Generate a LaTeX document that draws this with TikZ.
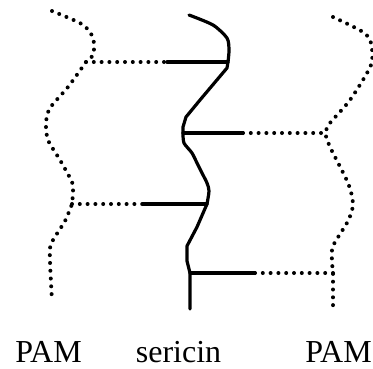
\documentclass[tikz,border=0pt]{standalone}
\usepackage{fontspec}
\setmainfont{Liberation Serif}
\begin{document}
\begin{tikzpicture}[x=1pt,y=-1pt,
  pam/.style={line width=4pt,line cap=round,dash pattern=on 0pt off 7.8pt,line join=round},
  ser/.style={line width=3.2pt,line cap=round,line join=round},
  lab/.style={anchor=base,inner sep=0pt,font=\fontsize{32}{38}\selectfont}]
\useasboundingbox (0,0) rectangle (373,368);
% junction coordinates
\coordinate (L1) at (86,62);
\coordinate (L2) at (72,204);
\coordinate (S1) at (228,62);
\coordinate (S2) at (183,133);
\coordinate (S3) at (207,204);
\coordinate (S4) at (190,273);
\coordinate (R1) at (325,133);
\coordinate (R2) at (333,273);
\coordinate (M1) at (167,62);
\coordinate (M2) at (243,133);
\coordinate (M3) at (143,204);
\coordinate (M4) at (255,273);
% left PAM chain
\draw[pam] plot[smooth,tension=0.45] coordinates {(52,11) (80,23) (90,32) (94,43) (93,55) (86,62)}
  -- plot[smooth,tension=0.45] coordinates {(86,62) (68,87) (50,108) (46,123) (48,140) (60,160) (72,182) (73,192) (72,204)}
  -- plot[smooth,tension=0.45] coordinates {(72,204) (65,221) (51,244) (50,261) (52,301)};
% right PAM chain
\draw[pam] plot[smooth,tension=0.45] coordinates {(333,17) (363,32) (371,43) (371,65) (350,100) (330,123) (325,133)}
  -- plot[smooth,tension=0.45] coordinates {(325,133) (330,147) (348,183) (353,204) (348,221) (333,246) (332,261) (333,273)}
  -- (333,311);
% sericin chain
\draw[ser] plot[smooth,tension=0.45] coordinates {(189,15) (213,25) (227,38) (229,50) (228,62)}
  -- (227,68) -- (200,100) -- (186,117) -- (183,127) -- (183,133)
  -- plot[smooth,tension=0.45] coordinates {(183,133) (184,143) (192,153) (197,163) (202,173) (207,183) (209,191) (207,204)}
  -- (197,227) -- (187,246) -- (187,261) -- (190,273) -- (190,309);
% cross links
\draw[pam] (L1) -- (M1);
\draw[ser] (M1) -- (S1);
\draw[ser] (S2) -- (M2);
\draw[pam] (M2) -- (R1);
\draw[pam] (L2) -- (M3);
\draw[ser] (M3) -- (S3);
\draw[ser] (S4) -- (M4);
\draw[pam] (M4) -- (R2);
% labels
\node[lab] (pamL) at (48.5,362) {PAM};
\node[lab] (ser) at (178.5,362) {sericin};
\node[lab] (pamR) at (338.5,362) {PAM};
\end{tikzpicture}
\end{document}
